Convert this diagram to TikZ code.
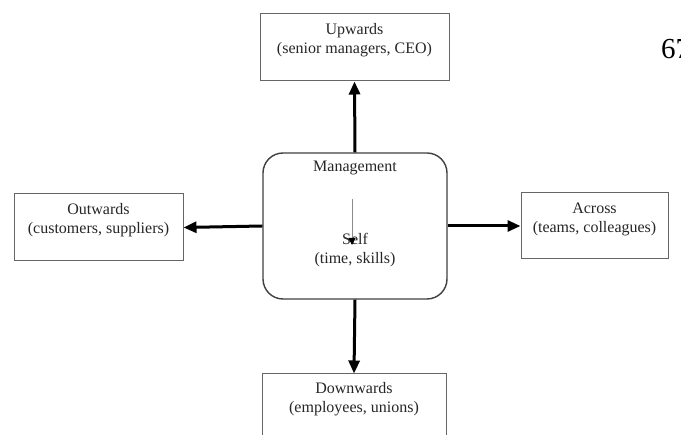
\documentclass[tikz,border=0pt]{standalone}
\usepackage{fontspec}
\setmainfont{Liberation Serif}
\usetikzlibrary{arrows.meta}
\begin{document}
\begin{tikzpicture}[x=1pt,y=-1pt,
  box/.style={draw=black!60, line width=1pt, rectangle, inner sep=0pt},
  lbl/.style={font=\fontsize{16}{19}\selectfont, text=black!85, align=center, inner sep=0pt},
  bigarrow/.style={line width=3pt, -{Triangle[length=13pt,width=11pt]}},
  thinarrow/.style={draw=black!45, line width=1pt, -{Triangle[length=7pt,width=7pt,color=black,fill=black]}}]
\clip (0,0) rectangle (681,435);
\fill[white] (0,0) rectangle (681,435);
% boxes
\node[box, minimum width=189pt, minimum height=67pt] (up) at (354.5,47.5) {};
\node[box, minimum width=169pt, minimum height=67pt] (out) at (98.5,227.5) {};
\node[box, minimum width=147pt, minimum height=66pt] (acr) at (594.5,226) {};
\node[box, minimum width=184pt, minimum height=80pt] (down) at (354,414) {};
\node[draw=black!75, line width=1.4pt, rounded corners=20pt, minimum width=184pt, minimum height=146pt, inner sep=0pt] (mgmt) at (355,226) {};
% labels
\node[lbl] (upT) at ([yshift=-27pt]up.north) {Upwards\\(senior managers, CEO)};
\node[lbl] (outT) at ([yshift=-27pt]out.north) {Outwards\\(customers, suppliers)};
\node[lbl] (acrT) at ([yshift=-27pt]acr.north) {Across\\(teams, colleagues)};
\node[lbl] (downT) at ([yshift=-26pt]down.north) {Downwards\\(employees, unions)};
\node[lbl] (mgmtT) at ([yshift=-16pt]mgmt.north) {Management};
% inner arrow
\node[lbl] (selfT) at (355,250.5) {Self\\(time, skills)};
\coordinate (s1) at (352,199);
\coordinate (s2) at (352,245);
\draw[thinarrow] (s1) -- (s2);
% thick arrows
\draw[bigarrow] (mgmt.north) -- (up.south);
\draw[bigarrow] (mgmt.west) -- (out.east);
\draw[bigarrow] (mgmt.east) -- (acr.west);
\draw[bigarrow] (mgmt.south) -- (down.north);
% page number
\node[anchor=base west, inner sep=0pt, font=\fontsize{29}{30}\selectfont] (pg) at (661,59) {67};
\end{tikzpicture}
\end{document}
